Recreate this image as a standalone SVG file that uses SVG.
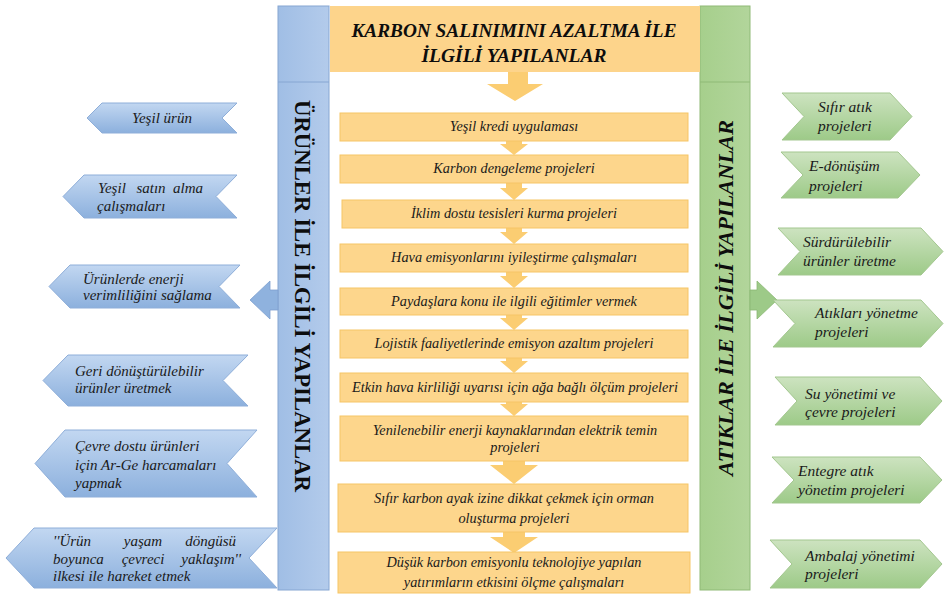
<svg xmlns="http://www.w3.org/2000/svg" width="944" height="599" viewBox="0 0 944 599">
<defs>
<linearGradient id="gBlue" x1="0" y1="0" x2="0" y2="1">
<stop offset="0" stop-color="#c2d7f1"/><stop offset="1" stop-color="#8cb0dd"/>
</linearGradient>
<linearGradient id="gGreen" x1="0" y1="0" x2="0" y2="1">
<stop offset="0" stop-color="#cde3c0"/><stop offset="1" stop-color="#9dca88"/>
</linearGradient>
<linearGradient id="gBlueBar" x1="0" y1="0" x2="1" y2="0">
<stop offset="0" stop-color="#a0bee5"/><stop offset="1" stop-color="#b3cbeb"/>
</linearGradient>
<linearGradient id="gGreenBar" x1="0" y1="0" x2="1" y2="0">
<stop offset="0" stop-color="#a6cf8c"/><stop offset="1" stop-color="#b2d59b"/>
</linearGradient>
</defs>
<style>
text{font-family:'Liberation Serif','Times New Roman',serif}
.t{font-style:italic;font-size:14.3px;fill:#1a1a1a}
.s{font-size:15px}
.sg{font-size:15.5px}
.c{text-anchor:middle}
.e{text-anchor:end}
.box{fill:#fdd68c;stroke:#f6c566;stroke-width:1}
.arr{fill:#fbcd72}
.bch{fill:url(#gBlue);stroke:#8eaed9;stroke-width:1}
.gch{fill:url(#gGreen);stroke:#a3c78f;stroke-width:1}
.title{font-weight:bold;fill:#0d0d0d}
</style>
<rect width="944" height="599" fill="#ffffff"/>

<g id="blue-bar">
<rect x="278" y="6" width="51" height="584" fill="url(#gBlueBar)" stroke="#86a6d2" stroke-width="1"/>
<line x1="278" y1="82" x2="329" y2="82" stroke="#86a6d2" stroke-width="1"/>
<text class="title" font-family="Liberation Serif, serif" font-size="22.5" transform="translate(303,296) rotate(90)" text-anchor="middle" dy="8" textLength="392" lengthAdjust="spacingAndGlyphs">ÜRÜNLER İLE İLGİLİ YAPILANLAR</text>
</g>

<g id="green-bar">
<rect x="700" y="6" width="50" height="584" fill="url(#gGreenBar)" stroke="#8fba77" stroke-width="1"/>
<line x1="700" y1="82" x2="750" y2="82" stroke="#8fba77" stroke-width="1"/>
<text class="title" font-family="Liberation Serif, serif" font-style="italic" font-size="22" transform="translate(725,298) rotate(-90)" text-anchor="middle" dy="8" textLength="356" lengthAdjust="spacingAndGlyphs">ATIKLAR İLE İLGİLİ YAPILANLAR</text>
</g>

<g id="header">
<rect x="330" y="6" width="370" height="66" fill="#fdd48b"/>
<text class="title c" font-family="Liberation Serif, serif" font-style="italic" font-size="19.5" x="514" y="37" textLength="325" lengthAdjust="spacingAndGlyphs">KARBON SALINIMINI AZALTMA İLE</text>
<text class="title c" font-family="Liberation Serif, serif" font-style="italic" font-size="19.5" x="514" y="62" textLength="185" lengthAdjust="spacingAndGlyphs">İLGİLİ YAPILANLAR</text>
</g>

<g id="connectors">
<path class="arr" d="M508,72 L528,72 L528,84 L543,84 L515,101 L487,84 L508,84 Z"/>
<path class="arr" d="M506,139 L522,139 L522,144 L528,144 L514,155 L500,144 L506,144 Z"/>
<path class="arr" d="M506,181 L522,181 L522,188 L528,188 L514,200 L500,188 L506,188 Z"/>
<path class="arr" d="M506,226 L522,226 L522,232 L528,232 L514,244 L500,232 L506,232 Z"/>
<path class="arr" d="M506,270 L522,270 L522,276 L528,276 L514,288 L500,276 L506,276 Z"/>
<path class="arr" d="M506,313 L522,313 L522,318 L528,318 L514,330 L500,318 L506,318 Z"/>
<path class="arr" d="M506,356 L522,356 L522,361 L528,361 L514,373 L500,361 L506,361 Z"/>
<path class="arr" d="M506,400 L522,400 L522,404 L528,404 L514,416 L500,404 L506,404 Z"/>
<path class="arr" d="M503,459 L525,459 L525,465 L538,465 L514,484 L490,465 L503,465 Z"/>
<path class="arr" d="M503,531 L525,531 L525,537 L538,537 L514,553 L490,537 L503,537 Z"/>
<path fill="#8fb2de" stroke="#7d9fcf" stroke-width="0.8" d="M278,290 L270,290 L270,281 L250,300 L270,319 L270,310 L278,310 Z"/>
<path fill="#9dca88" stroke="#8ab873" stroke-width="0.8" d="M750,290 L757,290 L757,281 L777,300 L757,319 L757,310 L750,310 Z"/>
</g>

<g id="box1"><rect class="box" x="340" y="113" width="348" height="28"/><text class="t c" x="514" y="131">Yeşil kredi uygulaması</text></g>
<g id="box2"><rect class="box" x="340" y="155" width="348" height="28"/><text class="t c" x="514" y="173">Karbon dengeleme projeleri</text></g>
<g id="box3"><rect class="box" x="342" y="200" width="346" height="28"/><text class="t c" x="514" y="218">İklim dostu tesisleri kurma projeleri</text></g>
<g id="box4"><rect class="box" x="340" y="244" width="348" height="28"/><text class="t c" x="514" y="262">Hava emisyonlarını iyileştirme çalışmaları</text></g>
<g id="box5"><rect class="box" x="340" y="288" width="348" height="27"/><text class="t c" x="514" y="306">Paydaşlara konu ile ilgili eğitimler vermek</text></g>
<g id="box6"><rect class="box" x="340" y="330" width="348" height="28"/><text class="t c" x="514" y="348">Lojistik faaliyetlerinde emisyon azaltım projeleri</text></g>
<g id="box7"><rect class="box" x="340" y="373" width="348" height="29"/><text class="t c" x="515" y="392">Etkin hava kirliliği uyarısı için ağa bağlı ölçüm projeleri</text></g>
<g id="box8"><rect class="box" x="340" y="416" width="348" height="45"/><text class="t c" x="515" y="435">Yenilenebilir enerji kaynaklarından elektrik temin</text><text class="t c" x="515" y="452">projeleri</text></g>
<g id="box9"><rect class="box" x="338" y="484" width="350" height="48"/><text class="t c" x="514" y="503">Sıfır karbon ayak izine dikkat çekmek için orman</text><text class="t c" x="514" y="523">oluşturma projeleri</text></g>
<g id="box10"><rect class="box" x="338" y="552" width="352" height="41"/><text class="t c" x="514" y="567">Düşük karbon emisyonlu teknolojiye yapılan</text><text class="t c" x="514" y="587">yatırımların etkisini ölçme çalışmaları</text></g>

<g id="b1"><path class="bch" d="M87,118 L102,103 L237,103 L222,118 L237,133 L102,133 Z"/><text class="t s" x="132" y="123">Yeşil ürün</text></g>
<g id="b2"><path class="bch" d="M63,196.5 L84,175 L237,175 L216,196.5 L237,218 L84,218 Z"/><text class="t s" x="98" y="193">Yeşil</text><text class="t s c" x="151" y="193">satın</text><text class="t s e" x="203" y="193">alma</text><text class="t s" x="97" y="211">çalışmaları</text></g>
<g id="b3"><path class="bch" d="M49,286.5 L70,265 L240,265 L219,286.5 L240,308 L70,308 Z"/><text class="t s" x="83" y="284">Ürünlerde enerji</text><text class="t s" x="83" y="300">verimliliğini sağlama</text></g>
<g id="b4"><path class="bch" d="M43,380.5 L68,355 L248,355 L223,380.5 L248,406 L68,406 Z"/><text class="t s" x="75" y="376">Geri dönüştürülebilir</text><text class="t s" x="75" y="393">ürünler üretmek</text></g>
<g id="b5"><path class="bch" d="M35,463.5 L65,430 L257,430 L227,463.5 L257,497 L65,497 Z"/><text class="t s" x="75" y="451">Çevre dostu ürünleri</text><text class="t s" x="75" y="470">için Ar-Ge harcamaları</text><text class="t s" x="75" y="488">yapmak</text></g>
<g id="b6"><path class="bch" d="M6,558 L34,528 L277,528 L249,558 L277,588 L34,588 Z"/><text class="t s" x="53" y="546">''Ürün</text><text class="t s c" x="143" y="546">yaşam</text><text class="t s e" x="236" y="546">döngüsü</text><text class="t s" x="53" y="564">boyunca</text><text class="t s c" x="143" y="564">çevreci</text><text class="t s e" x="241" y="564">yaklaşım''</text><text class="t s" x="53" y="581">ilkesi ile hareket etmek</text></g>

<g id="g1"><path class="gch" d="M782,93 L890,93 L912,116.5 L890,140 L782,140 L804,116.5 Z"/><text class="t sg" x="818" y="112">Sıfır atık</text><text class="t sg" x="818" y="131">projeleri</text></g>
<g id="g2"><path class="gch" d="M781,152 L898,152 L920,175 L898,198 L781,198 L803,175 Z"/><text class="t sg" x="809" y="171">E-dönüşüm</text><text class="t sg" x="809" y="191">projeleri</text></g>
<g id="g3"><path class="gch" d="M778,228 L921,228 L943,251.5 L921,275 L778,275 L800,251.5 Z"/><text class="t sg" x="803" y="247">Sürdürülebilir</text><text class="t sg" x="803" y="266">ürünler üretme</text></g>
<g id="g4"><path class="gch" d="M773,300 L921,300 L943,323.5 L921,347 L773,347 L795,323.5 Z"/><text class="t sg" x="815" y="318">Atıkları yönetme</text><text class="t sg" x="815" y="337">projeleri</text></g>
<g id="g5"><path class="gch" d="M775,377 L920,377 L942,401 L920,425 L775,425 L797,401 Z"/><text class="t sg" x="805" y="399">Su yönetimi ve</text><text class="t sg" x="805" y="417">çevre projeleri</text></g>
<g id="g6"><path class="gch" d="M772,457 L920,457 L942,480 L920,503 L772,503 L794,480 Z"/><text class="t sg" x="798" y="476">Entegre atık</text><text class="t sg" x="798" y="495">yönetim projeleri</text></g>
<g id="g7"><path class="gch" d="M770,540 L920,540 L942,564 L920,588 L770,588 L792,564 Z"/><text class="t sg" x="805" y="561">Ambalaj yönetimi</text><text class="t sg" x="805" y="579">projeleri</text></g>
</svg>
